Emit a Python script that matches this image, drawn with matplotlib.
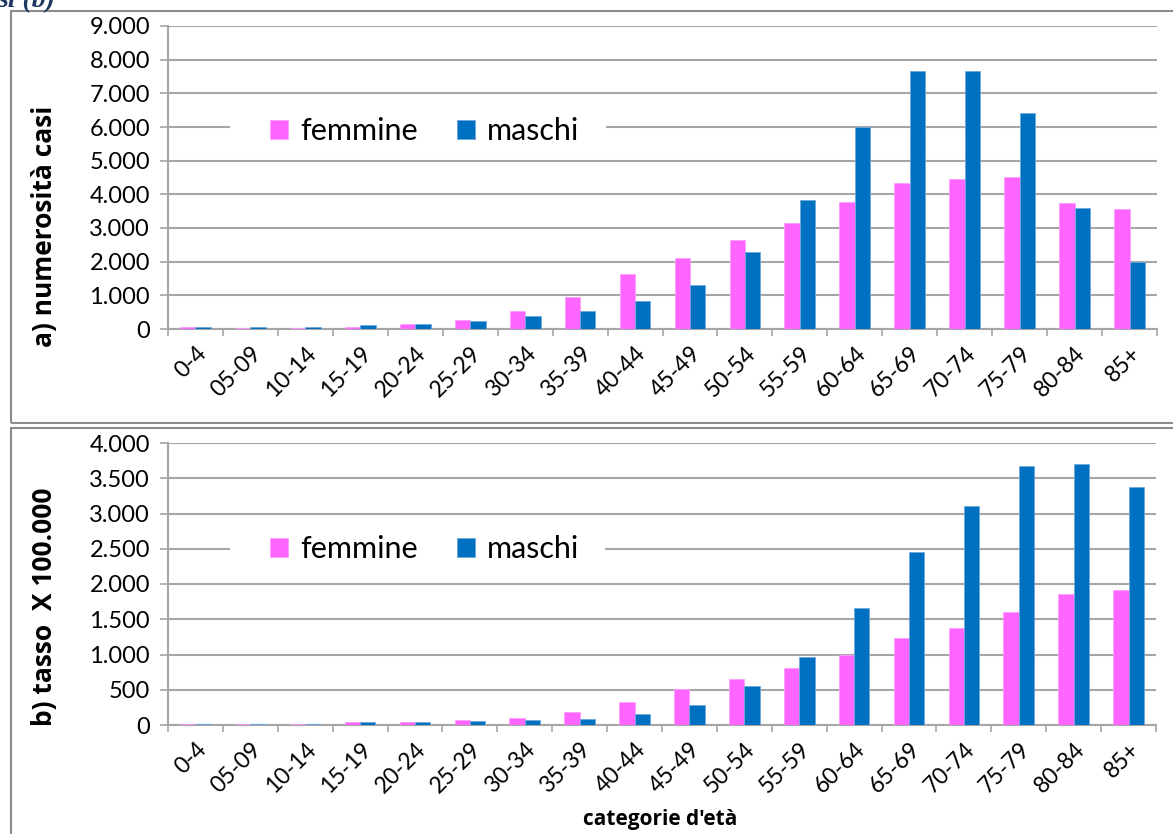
import numpy as np
import matplotlib
matplotlib.use("Agg")
import matplotlib.pyplot as plt
from matplotlib.ticker import FixedLocator, FuncFormatter
from matplotlib.patches import Rectangle

plt.rcParams['font.family'] = ['Lato', 'DejaVu Sans']

# data
categorie = ['0-4', '05-09', '10-14', '15-19', '20-24', '25-29', '30-34', '35-39',
             '40-44', '45-49', '50-54', '55-59', '60-64', '65-69', '70-74', '75-79',
             '80-84', '85+']
casi_femmine = [68, 39, 39, 68, 137, 273, 546, 937, 1639, 2110, 2640, 3140, 3770,
                4340, 4450, 4520, 3740, 3550]
casi_maschi = [68, 68, 68, 107, 137, 244, 380, 546, 820, 1310, 2280, 3840, 6000,
               7673, 7673, 6430, 3580, 1990]
tasso_femmine = [19, 19, 19, 38, 38, 67, 101, 183, 332, 505, 659, 808, 1000,
                 1231, 1380, 1606, 1861, 1913]
tasso_maschi = [19, 19, 19, 38, 38, 53, 67, 82, 154, 285, 558, 966, 1654,
                2452, 3105, 3667, 3705, 3376]

col_f = '#FF66FF'
col_m = '#0070C0'
grigio = '#A6A6A6'
W, H = 1173, 834
bold_font = ['Open Sans', 'DejaVu Sans']


def fmt_migliaia(v, pos):
    return f"{int(v):,}".replace(',', '.')


def pannello(rect, femmine, maschi, ymax, ystep, ylabel_txt, ylabel_y, leg_y):
    ax = fig.add_axes(rect)
    x = np.arange(len(categorie))
    w = 0.28
    ax.bar(x - w / 2, femmine, w, color=col_f, edgecolor='#FF9CFF', linewidth=0.6,
           label='femmine', zorder=3)
    ax.bar(x + w / 2, maschi, w, color=col_m, edgecolor='#6FA8DC', linewidth=0.6,
           label='maschi', zorder=3)
    ax.set_xlim(-0.5, len(categorie) - 0.5)
    ax.set_ylim(0, ymax)
    ax.set_yticks(np.arange(0, ymax + 1, ystep))
    ax.yaxis.set_major_formatter(FuncFormatter(fmt_migliaia))
    ax.yaxis.grid(True, color=grigio, linewidth=1.5, zorder=0)
    ax.set_axisbelow(True)

    # ticks between categories, labels at the centres
    ax.xaxis.set_major_locator(FixedLocator(np.arange(-0.5, len(categorie), 1.0)))
    ax.xaxis.set_major_formatter(FuncFormatter(lambda v, p: ''))
    ax.xaxis.set_minor_locator(FixedLocator(x))
    ax.set_xticklabels(categorie, minor=True, rotation=45, ha='right',
                       rotation_mode='anchor', fontsize=16.5)
    ax.tick_params(axis='x', which='major', length=5, width=1.2, color=grigio)
    ax.tick_params(axis='x', which='minor', length=0, pad=10)
    ax.tick_params(axis='y', length=6, width=1.2, color=grigio, labelsize=17, pad=7)

    for s in ['top', 'right']:
        ax.spines[s].set_visible(False)
    for s in ['left', 'bottom']:
        ax.spines[s].set_color(grigio)
        ax.spines[s].set_linewidth(1.5)

    # white patch behind the legend hides one gridline
    ax.add_patch(Rectangle((0.0627, leg_y - 0.04), 0.38, 0.08, transform=ax.transAxes,
                           facecolor='white', edgecolor='none', zorder=1))
    ax.legend(loc='center left', bbox_to_anchor=(0.1031, leg_y), ncol=2,
              frameon=False, fontsize=22, handlelength=0.58, handleheight=0.58,
              handletextpad=0.4, columnspacing=1.3, borderpad=0, borderaxespad=0)

    fig.text(45 / W, ylabel_y, ylabel_txt, rotation=90, ha='center', va='center',
             fontsize=19, fontweight='bold', family=bold_font)
    return ax


fig = plt.figure(figsize=(W / 100, H / 100), dpi=100)

# panel frames
fig.patches.append(Rectangle((11 / W, (H - 423) / H), 1.1, 412 / H,
                             transform=fig.transFigure, fill=False,
                             edgecolor='#8C8C8C', linewidth=1.5))
fig.patches.append(Rectangle((11 / W, -0.05), 1.1, (H - 428) / H + 0.05,
                             transform=fig.transFigure, fill=False,
                             edgecolor='#8C8C8C', linewidth=1.5))

fig.text(-0.002, (H - 7) / H, 'si (b)', family='Liberation Serif', style='italic',
         fontweight='bold', fontsize=20, color='#1F3864', ha='left', va='baseline')

pannello([168 / W, (H - 329) / H, 989 / W, 303 / H], casi_femmine, casi_maschi,
         9000, 1000, 'a) numerosità casi', (H - 226) / H, 0.6535)
pannello([168 / W, (H - 725) / H, 988 / W, 282 / H], tasso_femmine, tasso_maschi,
         4000, 500, 'b) tasso  X 100.000', (H - 607) / H, 0.624)

fig.text(660 / W, 14 / H, "categorie d'età", ha='center', va='center',
         fontsize=15, fontweight='bold', family=bold_font)

fig.savefig('out.png', dpi=100)
